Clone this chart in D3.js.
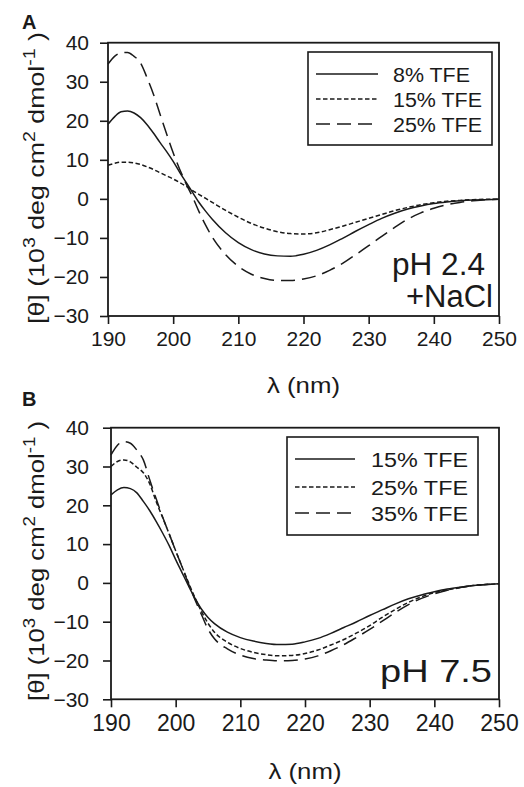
<!DOCTYPE html>
<html><head><meta charset="utf-8">
<script src="https://cdn.jsdelivr.net/npm/d3@7"></script>
<style>
html,body{margin:0;padding:0;background:#fff;}
svg{display:block;font-family:"Liberation Sans",Arial,sans-serif;}
</style></head>
<body><svg id="c" width="524" height="787"></svg>
<script>
// ---- data ----
const wavelengths = [190,191,192,193,194,195,196,197,198,199,200,201,202,203,204,205,206,208,210,212,214,216,218,220,222,224,226,228,230,232,234,236,238,240,242,244,246,248,250];
// Panel A (pH 2.4 + NaCl)
const a8TFE  = [19.1,21.0,22.3,22.5,22.0,20.8,19.0,16.8,14.4,12.1,9.6,6.8,4.2,1.6,-1.0,-3.2,-5.2,-8.6,-11.2,-13.0,-14.1,-14.6,-14.7,-14.2,-13.2,-11.8,-10.1,-8.3,-6.6,-5.0,-3.7,-2.6,-1.8,-1.2,-0.8,-0.5,-0.3,-0.2,-0.1];
const a15TFE = [8.6,9.1,9.4,9.4,9.2,8.8,8.2,7.5,6.7,5.9,5.1,4.2,3.2,2.1,1.1,0.1,-0.9,-2.9,-4.7,-6.3,-7.5,-8.4,-8.9,-9.0,-8.7,-7.9,-7.0,-6.0,-5.0,-4.0,-3.0,-2.2,-1.5,-1.0,-0.6,-0.4,-0.2,-0.1,-0.1];
const a25TFE = [34.5,36.5,37.4,37.5,36.5,34.8,31.0,26.7,21.6,16.6,11.8,7.6,3.8,0.4,-3.4,-6.8,-9.8,-14.2,-17.3,-19.3,-20.4,-20.9,-20.9,-20.5,-19.7,-18.3,-16.5,-14.3,-12.0,-9.6,-7.3,-5.2,-3.6,-2.4,-1.5,-0.9,-0.5,-0.2,-0.1];
// Panel B (pH 7.5)
const b15TFE = [22.7,24.0,24.6,24.3,23.2,21.0,18.6,15.8,12.8,9.6,6.0,2.6,-0.8,-4.0,-6.8,-8.9,-10.5,-12.7,-14.1,-15.0,-15.6,-15.9,-15.8,-15.2,-14.3,-13.0,-11.5,-10.0,-8.4,-6.9,-5.4,-4.1,-3.1,-2.3,-1.6,-1.1,-0.7,-0.4,-0.2];
const b25TFE = [30.0,31.3,31.7,31.2,29.8,28.4,25.5,20.9,16.8,12.6,8.3,4.1,0.0,-3.9,-7.4,-10.4,-12.7,-15.3,-16.9,-17.9,-18.5,-18.8,-18.7,-18.2,-17.3,-16.0,-14.6,-12.9,-11.0,-8.8,-6.8,-5.0,-3.6,-2.5,-1.8,-1.2,-0.7,-0.4,-0.2];
const b35TFE = [33.0,35.5,36.4,36.0,34.2,31.7,26.5,21.6,16.9,12.6,8.3,4.1,-0.3,-4.4,-8.2,-11.9,-14.4,-17.0,-18.6,-19.5,-19.9,-20.1,-20.0,-19.6,-18.8,-17.5,-15.9,-14.0,-12.0,-9.8,-7.6,-5.6,-4.0,-2.8,-1.9,-1.2,-0.7,-0.4,-0.2];
const xTickValues = [190,200,210,220,230,240,250];
const yTickValues = [-30,-20,-10,0,10,20,30,40];
const legendA = ["8% TFE","15% TFE","25% TFE"];
const legendB = ["15% TFE","25% TFE","35% TFE"];

const dashes = [null, "4.5,2.5", "14,7"];
const svg = d3.select("#c");
const ink = "#1a1a1a";

function panel(opt){
  const x = d3.scaleLinear().domain([190,250]).range([opt.left, opt.right]);
  const y = d3.scaleLinear().domain([-30,40]).range([opt.bottom, opt.top]);
  const g = svg.append("g");
  // axes
  const xa = g.append("g").attr("transform",`translate(0,${opt.bottom})`)
    .call(d3.axisBottom(x).tickValues(xTickValues).tickSizeInner(8).tickSizeOuter(0).tickPadding(opt.xPad).tickFormat(d3.format("d")));
  const ya = g.append("g").attr("transform",`translate(${opt.left},0)`)
    .call(d3.axisLeft(y).tickValues(yTickValues).tickSizeInner(8).tickSizeOuter(0).tickPadding(opt.yPad).tickFormat(d3.format("d")));
  [xa,ya].forEach(a=>{
    a.selectAll("path").remove();
    a.selectAll("line").attr("stroke",ink).attr("stroke-width",1.6);
    a.selectAll("text").attr("fill",ink).attr("font-family","Liberation Sans, Arial, sans-serif");
  });
  xa.selectAll("text").attr("font-size",opt.xFont);
  ya.selectAll("text").attr("font-size",21);
  // frame
  g.append("rect").attr("x",opt.left).attr("y",opt.top).attr("width",opt.right-opt.left).attr("height",opt.bottom-opt.top)
    .attr("fill","none").attr("stroke",ink).attr("stroke-width",1.8);
  // lines
  const line = d3.line().x((d,i)=>x(wavelengths[i])).y(d=>y(d)).curve(d3.curveMonotoneX);
  opt.series.forEach((s,i)=>{
    g.append("path").datum(s).attr("d",line).attr("fill","none").attr("stroke",ink)
      .attr("stroke-width",1.5).attr("stroke-dasharray",dashes[i]);
  });
  // legend
  const L = opt.legend;
  g.append("rect").attr("x",L.x0).attr("y",L.y0).attr("width",L.x1-L.x0).attr("height",L.y1-L.y0)
    .attr("fill","#fff").attr("stroke",ink).attr("stroke-width",1.6);
  opt.labels.forEach((t,i)=>{
    const yy = L.rows[i];
    g.append("line").attr("x1",L.lx0).attr("x2",L.lx1).attr("y1",yy).attr("y2",yy)
      .attr("stroke",ink).attr("stroke-width",1.5).attr("stroke-dasharray",dashes[i]);
    g.append("text").attr("x",L.tx).attr("y",yy+7.5).attr("font-size",20.5).attr("fill",ink)
      .attr("textLength",L.widths[i]).attr("lengthAdjust","spacingAndGlyphs").text(t);
  });
  // y label
  const yl = g.append("text").attr("transform",`translate(44,${opt.ylabelY}) rotate(-90)`)
    .attr("text-anchor","middle").attr("font-size",22).attr("fill",ink)
    .attr("textLength",opt.ylabelLen).attr("lengthAdjust","spacingAndGlyphs");
  yl.append("tspan").text("[θ] (10");
  yl.append("tspan").attr("font-size",16).attr("dy",-9).text("3");
  yl.append("tspan").attr("dy",9).text(" deg cm");
  yl.append("tspan").attr("font-size",16).attr("dy",-9).text("2");
  yl.append("tspan").attr("dy",9).text(" dmol");
  yl.append("tspan").attr("font-size",16).attr("dy",-9).text("-1");
  yl.append("tspan").attr("dy",9).text(" )");
  // x label
  g.append("text").attr("x",(opt.left+opt.right)/2).attr("y",opt.xlabelY).attr("text-anchor","middle")
    .attr("font-size",21.5).attr("fill",ink).attr("textLength",73).attr("lengthAdjust","spacingAndGlyphs").text("λ (nm)");
  // panel letter
  g.append("text").attr("x",22).attr("y",opt.letterY).attr("font-size",20).attr("font-weight","bold")
    .attr("fill",ink).text(opt.letter);
  // annotation
  opt.notes.forEach(n=>{
    g.append("text").attr("x",n.x).attr("y",n.y).attr("font-size",n.size)
      .attr("fill",ink).attr("textLength",n.w).attr("lengthAdjust","spacingAndGlyphs").text(n.t);
  });
}

panel({left:108,right:499,top:42.7,bottom:316,series:[a8TFE,a15TFE,a25TFE],labels:legendA,
  xFont:21,xPad:7,yPad:11,
  legend:{x0:308,x1:492,y0:52,y1:145,lx0:316,lx1:378,tx:393,rows:[74,99,124],widths:[77,89,89]},
  ylabelY:178,ylabelLen:292,xlabelY:393,letter:"A",letterY:29,
  notes:[{t:"pH 2.4",x:392,y:275,size:31,w:93},{t:"+NaCl",x:406,y:307,size:31,w:87}]});

panel({left:111,right:499,top:427.7,bottom:699.3,series:[b15TFE,b25TFE,b35TFE],labels:legendB,
  xFont:23,xPad:7,yPad:14,
  legend:{x0:287,x1:478,y0:437,y1:535,lx0:295,lx1:355,tx:371,rows:[459,487,513],widths:[97,97,97]},
  ylabelY:561,ylabelLen:280,xlabelY:779,letter:"B",letterY:406,
  notes:[{t:"pH 7.5",x:380,y:682,size:31,w:112}]});
</script></body></html>
